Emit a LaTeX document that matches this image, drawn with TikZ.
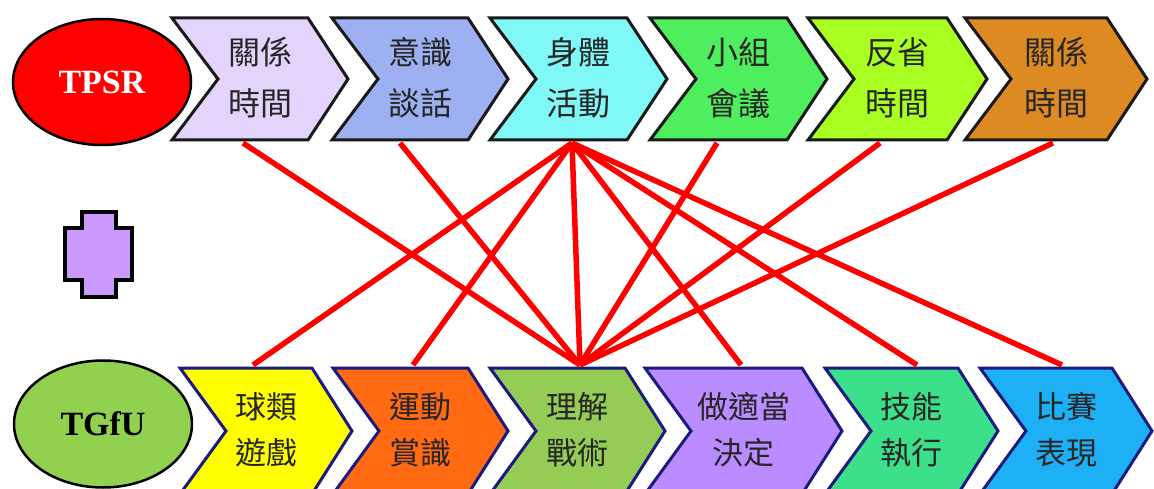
\documentclass[tikz,border=0pt]{standalone}
\usepackage{fontspec}
\setmainfont{Liberation Serif}
\newfontfamily\cjk{Noto Sans CJK TC}
\usetikzlibrary{calc,shapes.geometric}
\definecolor{tA}{HTML}{E2D4FA}
\definecolor{tB}{HTML}{9DB0F2}
\definecolor{tC}{HTML}{80F8F8}
\definecolor{tD}{HTML}{4EEE5E}
\definecolor{tE}{HTML}{AAFF22}
\definecolor{tF}{HTML}{DD8A22}
\definecolor{bA}{HTML}{FFFF00}
\definecolor{bB}{HTML}{FF6A12}
\definecolor{bC}{HTML}{94CC55}
\definecolor{bD}{HTML}{BA8CFF}
\definecolor{bE}{HTML}{3CE08A}
\definecolor{bF}{HTML}{1EB0F4}
\definecolor{plusc}{HTML}{CC99FF}
\definecolor{tgfu}{HTML}{92D050}
\definecolor{navy}{HTML}{1A1A80}
\newcommand\chev[6]{%
  \node[box, chevh, minimum width=#4] (#1) at (#2,#3) {};
  \path[#5] (#1.north west) -- ($(#1.north east)+(-40,0)$) -- (#1.east)
    -- ($(#1.south east)+(-40,0)$) -- (#1.south west) -- ($(#1.west)+(46,0)$) -- cycle;
  \node[lab] (#1l) at ($(#1.center)+(0,-1)$) {#6};}
\begin{document}
\begin{tikzpicture}[x=1pt,y=-1pt,
  box/.style={inner sep=0pt, outer sep=0pt, minimum height=122pt},
  chevh/.style={},
  lab/.style={font=\cjk\fontsize{32}{51}\selectfont, align=center, text=black!85},
  topch/.style={draw=black!90, line width=3pt, line join=miter, fill=#1},
  botch/.style={draw=navy, line width=3pt, line join=miter, fill=#1},
  link/.style={draw=red, line width=5.5pt},
  oval/.style={ellipse, draw=black, line width=2.5pt, minimum width=178pt, minimum height=126pt,
    font=\bfseries\fontsize{34}{34}\selectfont}]
\useasboundingbox (0,0) rectangle (1154,489);
\fill[white] (0,0) rectangle (1154,489);
% ellipses
\node[oval, fill=red, text=white] (tpsr) at (102,82) {TPSR};
\node[oval, fill=tgfu, text=black, minimum height=127pt] (tgfu) at (103,424) {TGfU};
% plus
\draw[fill=plusc, line width=3.5pt, line join=miter]
  (82,212) -- (116,212) -- (116,228) -- (132,228) -- (132,280) -- (116,280) -- (116,297)
  -- (82,297) -- (82,280) -- (65,280) -- (65,228) -- (82,228) -- cycle;
% top chevrons
\chev{t1}{260}{79}{176}{topch=tA}{關係\\時間}
\chev{t2}{420}{79}{176}{topch=tB}{意識\\談話}
\chev{t3}{578.5}{79}{177}{topch=tC}{身體\\活動}
\chev{t4}{738.5}{79}{177}{topch=tD}{小組\\會議}
\chev{t5}{897.5}{79}{179}{topch=tE}{反省\\時間}
\chev{t6}{1056}{79}{182}{topch=tF}{關係\\時間}
% bottom chevrons
\tikzset{chevh/.style={minimum height=126pt},
  lab/.style={font=\cjk\fontsize{31}{46}\selectfont, align=center, text=black!85}}
\chev{b1}{266}{431}{172}{botch=bA}{球類\\遊戲}
\chev{b2}{420.5}{431}{175}{botch=bB}{運動\\賞識}
\chev{b3}{577.5}{431}{175}{botch=bC}{理解\\戰術}
\chev{b4}{743.5}{431}{197}{botch=bD}{做適當\\決定}
\chev{b5}{911.5}{431}{173}{botch=bE}{技能\\執行}
\chev{b6}{1066}{431}{172}{botch=bF}{比賽\\表現}
% anchor points
\coordinate (p1) at ($(t1.south west)+(71,3)$);
\coordinate (p2) at ($(t2.south west)+(68,3)$);
\coordinate (p3) at ($(t3.south west)+(82,3)$);
\coordinate (p4) at ($(t4.south west)+(67,3)$);
\coordinate (p5) at ($(t5.south west)+(72,3)$);
\coordinate (p6) at ($(t6.south west)+(88,3)$);
\coordinate (q1) at ($(b1.north west)+(73,-3)$);
\coordinate (q2) at ($(b2.north west)+(80,-3)$);
\coordinate (q3) at ($(b3.north west)+(90,-3)$);
\coordinate (q4) at ($(b4.north west)+(96,-3)$);
\coordinate (q5) at ($(b5.north west)+(92,-3)$);
\coordinate (q6) at ($(b6.north west)+(82,-3)$);
% links
\draw[link] (p1) -- (q3);
\draw[link] (p2) -- (q3);
\draw[link] (p3) -- (q1);
\draw[link] (p3) -- (q2);
\draw[link] (p3) -- (q3);
\draw[link] (p3) -- (q4);
\draw[link] (p3) -- (q5);
\draw[link] (p3) -- (q6);
\draw[link] (p4) -- (q3);
\draw[link] (p5) -- (q3);
\draw[link] (p6) -- (q3);
\end{tikzpicture}
\end{document}
